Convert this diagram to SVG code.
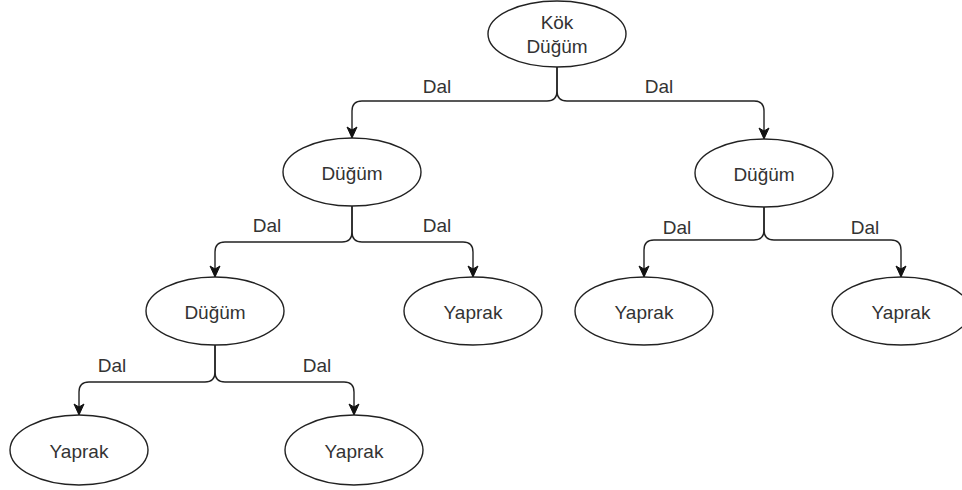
<svg xmlns="http://www.w3.org/2000/svg" width="962" height="490" viewBox="0 0 962 490">
<style>
.n{fill:#fff;stroke:#222;stroke-width:1.4}
.t{font-family:"Liberation Sans",Arial,sans-serif;font-size:19px;fill:#333;text-anchor:middle}
.e{fill:none;stroke:#222;stroke-width:1.4}
</style>
<defs>
<marker id="a" markerUnits="userSpaceOnUse" markerWidth="14" markerHeight="14" refX="12" refY="6" orient="auto">
<path d="M1,1 L12,6 L1,11 L4,6 Z" fill="#111" stroke="#111" stroke-width="1"/>
</marker>
</defs>
<rect width="962" height="490" fill="#fff"/>
<g id="edges">
<path class="e" marker-end="url(#a)" d="M557,67 V91 Q557,101 547,101 H362 Q352,101 352,111 V138"/>
<path class="e" marker-end="url(#a)" d="M557,67 V91 Q557,101 567,101 H754 Q764,101 764,111 V139"/>
<path class="e" marker-end="url(#a)" d="M352,206 V232 Q352,242 342,242 H225 Q215,242 215,252 V277"/>
<path class="e" marker-end="url(#a)" d="M352,206 V232 Q352,242 362,242 H463 Q473,242 473,252 V277"/>
<path class="e" marker-end="url(#a)" d="M764,207 V230 Q764,240 754,240 H654 Q644,240 644,250 V277"/>
<path class="e" marker-end="url(#a)" d="M764,207 V230 Q764,240 774,240 H891 Q901,240 901,250 V277"/>
<path class="e" marker-end="url(#a)" d="M215,345 V372 Q215,382 205,382 H89 Q79,382 79,392 V415"/>
<path class="e" marker-end="url(#a)" d="M215,345 V372 Q215,382 225,382 H344 Q354,382 354,392 V415"/>
<text class="t" x="437" y="93">Dal</text>
<text class="t" x="659" y="93">Dal</text>
<text class="t" x="267" y="232">Dal</text>
<text class="t" x="437" y="232">Dal</text>
<text class="t" x="677" y="234">Dal</text>
<text class="t" x="865" y="234">Dal</text>
<text class="t" x="112" y="372">Dal</text>
<text class="t" x="317" y="372">Dal</text>
</g>
<g id="root"><ellipse class="n" cx="557" cy="34" rx="69" ry="33"/><text class="t" x="557" y="29">Kök</text><text class="t" x="557" y="53">Düğüm</text></g>
<g id="n1"><ellipse class="n" cx="352" cy="172" rx="69" ry="34"/><text class="t" x="352" y="180">Düğüm</text></g>
<g id="n2"><ellipse class="n" cx="764" cy="173" rx="69" ry="34"/><text class="t" x="764" y="181">Düğüm</text></g>
<g id="n3"><ellipse class="n" cx="215" cy="311" rx="69" ry="34"/><text class="t" x="215" y="319">Düğüm</text></g>
<g id="l1"><ellipse class="n" cx="473" cy="311" rx="69" ry="34"/><text class="t" x="473" y="319">Yaprak</text></g>
<g id="l2"><ellipse class="n" cx="644" cy="311" rx="69" ry="34"/><text class="t" x="644" y="319">Yaprak</text></g>
<g id="l3"><ellipse class="n" cx="901" cy="311" rx="69" ry="34"/><text class="t" x="901" y="319">Yaprak</text></g>
<g id="l4"><ellipse class="n" cx="79" cy="450" rx="69" ry="35"/><text class="t" x="79" y="458">Yaprak</text></g>
<g id="l5"><ellipse class="n" cx="354" cy="450" rx="69" ry="35"/><text class="t" x="354" y="458">Yaprak</text></g>
</svg>
